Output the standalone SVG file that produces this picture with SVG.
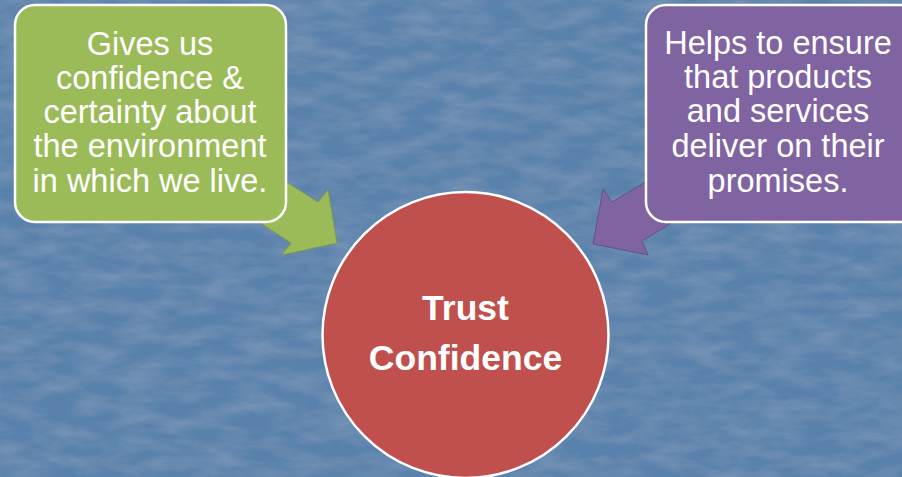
<svg xmlns="http://www.w3.org/2000/svg" width="902" height="477" viewBox="0 0 902 477">
  <defs>
    <filter id="tex" x="0" y="0" width="100%" height="100%">
      <feTurbulence type="fractalNoise" baseFrequency="0.025 0.07" numOctaves="4" seed="7" result="n"/>
      <feColorMatrix in="n" type="matrix" values="0 0 0 0 1  0 0 0 0 1  0 0 0 0 1  0.16 0 0 0 -0.05" result="w"/>
      <feComposite in="w" in2="SourceGraphic" operator="in" result="wc"/>
      <feMerge><feMergeNode in="SourceGraphic"/><feMergeNode in="wc"/></feMerge>
    </filter>
    <style>
      .box { stroke: #ffffff; stroke-width: 2.5; }
      .green { fill: #9bbb59; }
      .purple { fill: #8064a2; }
      .arrowG { fill: #9bbb59; stroke: #7a9a40; stroke-width: 0.8; }
      .arrowP { fill: #8064a2; stroke: #5f4a80; stroke-width: 0.8; }
      .lbl { font-family: "Liberation Sans", Arial, sans-serif; font-size: 32.5px; fill: #ffffff; text-anchor: middle; }
      .ctr { font-family: "Liberation Sans", Arial, sans-serif; font-size: 35.5px; font-weight: bold; fill: #ffffff; text-anchor: middle; }
    </style>
  </defs>
  <rect x="0" y="0" width="902" height="477" fill="#5881ab" filter="url(#tex)"/>
  <g id="connectors">
    <polygon class="arrowG" points="280,178 318,202 328,190 337,243 282,255 291,243 262,224"/>
    <polygon class="arrowP" points="652,178 612,202 603,189 593,244 648,255 642,241 670,224"/>
  </g>
  <g id="node-green">
    <rect class="box green" x="15" y="5" width="271" height="217" rx="20" ry="20"/>
    <text class="lbl" x="150" y="55">Gives us</text>
    <text class="lbl" x="150" y="89">confidence &amp;</text>
    <text class="lbl" x="150" y="123">certainty about</text>
    <text class="lbl" x="150" y="157">the environment</text>
    <text class="lbl" x="150" y="192">in which we live.</text>
  </g>
  <g id="node-purple">
    <rect class="box purple" x="646" y="5" width="275" height="217" rx="20" ry="20"/>
    <text class="lbl" x="778" y="54">Helps to ensure</text>
    <text class="lbl" x="778" y="88">that products</text>
    <text class="lbl" x="778" y="122">and services</text>
    <text class="lbl" x="778" y="157">deliver on their</text>
    <text class="lbl" x="778" y="192">promises.</text>
  </g>
  <g id="node-center">
    <circle cx="465.5" cy="335" r="143" fill="#c0504d" stroke="#ffffff" stroke-width="2.5"/>
    <text class="ctr" x="465.5" y="320">Trust</text>
    <text class="ctr" x="465.5" y="370">Confidence</text>
  </g>
</svg>
